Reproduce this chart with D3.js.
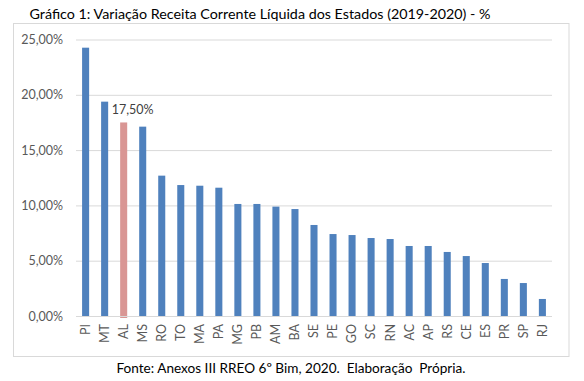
<!DOCTYPE html>
<html><head><meta charset="utf-8">
<script src="https://cdn.jsdelivr.net/npm/d3@7"></script>
<style>body{margin:0;background:#fff}svg{display:block}text{font-family:Lato,"Open Sans",sans-serif;white-space:pre}</style>
</head><body><svg id="c" width="584" height="381"></svg>
<script>
const categories = ["PI","MT","AL","MS","RO","TO","MA","PA","MG","PB","AM","BA","SE","PE","GO","SC","RN","AC","AP","RS","CE","ES","PR","SP","RJ"];
const values = [24.26,19.38,17.50,17.12,12.69,11.84,11.78,11.60,10.13,10.13,9.89,9.67,8.23,7.41,7.32,7.05,6.96,6.33,6.33,5.79,5.42,4.79,3.35,2.98,1.54];
const yTicks = [0,5,10,15,20,25];
const highlight = "AL";
const titleText = "Gráfico 1: Variação Receita Corrente Líquida dos Estados (2019-2020) - %";
const footText = "Fonte: Anexos III RREO 6º Bim, 2020.  Elaboração  Própria.";

const svg = d3.select("#c");
const fmt = v => v.toFixed(2).replace(".", ",") + "%";
const x = d3.scaleBand().domain(categories).range([76, 552]).paddingInner(0.63).paddingOuter(0.32);
const y = d3.scaleLinear().domain([0, 25]).range([316, 39.5]);

// chart border
svg.append("rect").attr("x", 13.5).attr("y", 23.5).attr("width", 555.5).attr("height", 333)
  .attr("fill", "none").attr("stroke", "#d9d9d9");

// title
svg.append("text").attr("x", 260).attr("y", 19).attr("text-anchor", "middle")
  .attr("font-size", 14.3).attr("fill", "#000").text(titleText);

// gridlines
const yAxis = d3.axisLeft(y).tickValues(yTicks).tickSize(-(552 - 76)).tickFormat(fmt).tickPadding(13);
const ga = svg.append("g").attr("transform", "translate(76,0)").call(yAxis);
ga.select(".domain").remove();
ga.selectAll(".tick line").attr("stroke", "#d9d9d9").attr("stroke-width", 1);
ga.selectAll(".tick text").attr("fill", "#595959").attr("font-size", 12.5).attr("font-family", "Lato,'Open Sans',sans-serif");

// bars
svg.append("g").selectAll("rect").data(categories).join("rect")
  .attr("x", d => x(d)).attr("width", x.bandwidth())
  .attr("y", (d, i) => y(values[i]))
  .attr("height", (d, i) => y(0) - y(values[i]) + (d === highlight ? 2 : 0))
  .attr("fill", d => d === highlight ? "#d99694" : "#4f81bd");

// x axis
const xAxis = d3.axisBottom(x).tickSize(0).tickPadding(0);
const gx = svg.append("g").attr("transform", "translate(0,316)").call(xAxis);
gx.select(".domain").attr("stroke", "#d9d9d9").attr("d", "M76,0.5H552");
gx.selectAll(".tick text").attr("fill", "#595959").attr("font-size", 12.5)
  .attr("font-family", "Lato,'Open Sans',sans-serif")
  .attr("transform", "rotate(-90)").attr("text-anchor", "end").attr("dy", "0.35em")
  .attr("x", -8).attr("y", 0);

// data label
const hi = categories.indexOf(highlight);
svg.append("text").attr("x", x(highlight) + x.bandwidth() / 2 + 9).attr("y", y(values[hi]) - 8)
  .attr("text-anchor", "middle").attr("font-size", 12.5).attr("fill", "#404040").text(fmt(values[hi]));

// footer
svg.append("text").attr("x", 291).attr("y", 373).attr("text-anchor", "middle")
  .attr("font-size", 13.6).attr("fill", "#000").text(footText);
</script></body></html>
